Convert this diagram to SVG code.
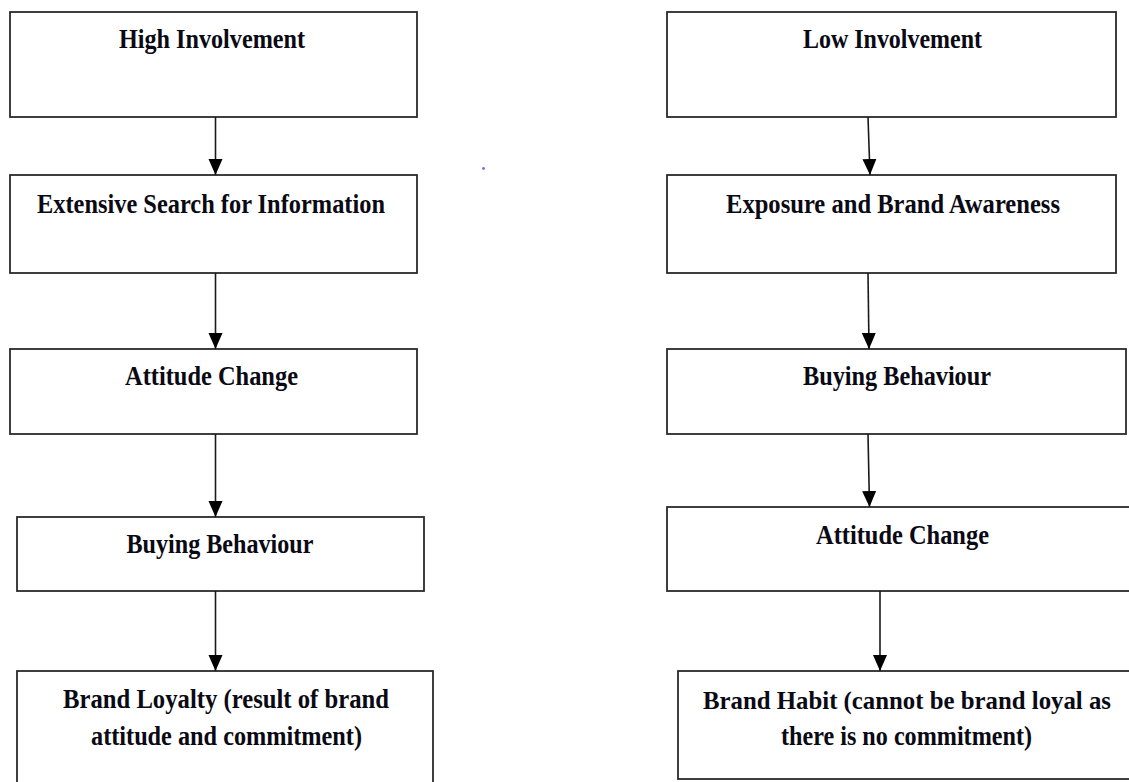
<svg xmlns="http://www.w3.org/2000/svg" width="1129" height="782" viewBox="0 0 1129 782">
  <style>
    .box { fill: #ffffff; stroke: #2a2a2a; stroke-width: 1.8; }
    .lbl { font-family: "Liberation Serif", "Times New Roman", serif; font-weight: bold; font-size: 27px; fill: #0a0a14; text-anchor: middle; }
    .wire { stroke: #1a1a1a; stroke-width: 1.6; fill: none; }
  </style>
  <defs>
    <marker id="head" markerUnits="userSpaceOnUse" markerWidth="16" markerHeight="17" viewBox="0 0 16 17" refX="16" refY="8" orient="auto">
      <path d="M0,1 L16,8 L0,15 Z" fill="#000000"/>
    </marker>
  </defs>

  <rect width="1129" height="782" fill="#ffffff"/>

  <!-- high involvement chain -->
  <g id="high-involvement">
    <rect class="box" x="10" y="12" width="407" height="105"/>
    <text class="lbl" x="212" y="48" textLength="186" lengthAdjust="spacingAndGlyphs">High Involvement</text>
  </g>
  <g id="extensive-search">
    <rect class="box" x="10" y="175" width="407" height="98"/>
    <text class="lbl" x="211" y="213" textLength="348" lengthAdjust="spacingAndGlyphs">Extensive Search for Information</text>
  </g>
  <g id="attitude-change-high">
    <rect class="box" x="10" y="349" width="407" height="85"/>
    <text class="lbl" x="211.5" y="385" textLength="173" lengthAdjust="spacingAndGlyphs">Attitude Change</text>
  </g>
  <g id="buying-behaviour-high">
    <rect class="box" x="17" y="517" width="407" height="74"/>
    <text class="lbl" x="220" y="553" textLength="187" lengthAdjust="spacingAndGlyphs">Buying Behaviour</text>
  </g>
  <g id="brand-loyalty">
    <rect class="box" x="17" y="671" width="416" height="130"/>
    <text class="lbl" x="226" y="708" textLength="326" lengthAdjust="spacingAndGlyphs">Brand Loyalty (result of brand</text>
    <text class="lbl" x="226.5" y="745" textLength="271" lengthAdjust="spacingAndGlyphs">attitude and commitment)</text>
  </g>

  <!-- low involvement chain -->
  <g id="low-involvement">
    <rect class="box" x="667" y="12" width="449" height="105"/>
    <text class="lbl" x="892.5" y="48" textLength="179" lengthAdjust="spacingAndGlyphs">Low Involvement</text>
  </g>
  <g id="exposure-awareness">
    <rect class="box" x="667" y="175" width="449" height="98"/>
    <text class="lbl" x="893" y="213" textLength="334" lengthAdjust="spacingAndGlyphs">Exposure and Brand Awareness</text>
  </g>
  <g id="buying-behaviour-low">
    <rect class="box" x="667" y="349" width="459" height="85"/>
    <text class="lbl" x="897" y="385" textLength="188" lengthAdjust="spacingAndGlyphs">Buying Behaviour</text>
  </g>
  <g id="attitude-change-low">
    <rect class="box" x="667" y="507" width="470" height="84"/>
    <text class="lbl" x="902.5" y="544" textLength="173" lengthAdjust="spacingAndGlyphs">Attitude Change</text>
  </g>
  <g id="brand-habit">
    <rect class="box" x="678" y="671" width="460" height="108"/>
    <text class="lbl" x="907" y="709" font-size="25.5" style="font-size:25.5px" textLength="408" lengthAdjust="spacingAndGlyphs">Brand Habit (cannot be brand loyal as</text>
    <text class="lbl" x="906.5" y="745" textLength="251" lengthAdjust="spacingAndGlyphs">there is no commitment)</text>
  </g>

  <!-- connectors -->
  <g id="connectors">
    <line class="wire" x1="215.5" y1="117" x2="215.5" y2="175" marker-end="url(#head)"/>
    <line class="wire" x1="215.5" y1="273" x2="215.5" y2="349" marker-end="url(#head)"/>
    <line class="wire" x1="215.5" y1="434" x2="215.5" y2="517" marker-end="url(#head)"/>
    <line class="wire" x1="215.5" y1="591" x2="215.5" y2="671" marker-end="url(#head)"/>
    <line class="wire" x1="868" y1="117" x2="870" y2="175" marker-end="url(#head)"/>
    <line class="wire" x1="868" y1="273" x2="869" y2="349" marker-end="url(#head)"/>
    <line class="wire" x1="868" y1="434" x2="869.5" y2="507" marker-end="url(#head)"/>
    <line class="wire" x1="880" y1="591" x2="880" y2="671" marker-end="url(#head)"/>
  </g>

  <!-- stray ink dot -->
  <circle cx="483.5" cy="168.5" r="1.4" fill="#3344ee" opacity="0.75"/>
</svg>
